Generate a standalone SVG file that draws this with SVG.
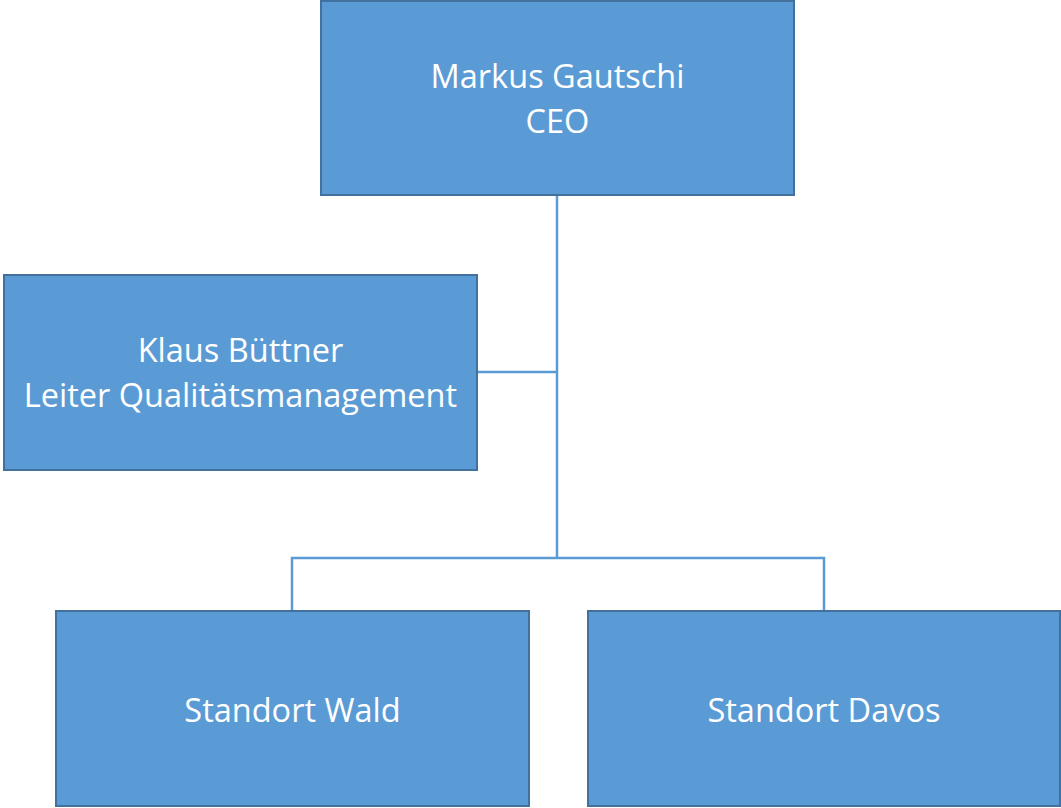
<svg xmlns="http://www.w3.org/2000/svg" width="1061" height="808" viewBox="0 0 1061 808">
<style>
.box{fill:#5B9BD5;stroke:#41719C;stroke-width:2}
.lbl{fill:#FFFFFF;font-family:"Open Sans","Liberation Sans",sans-serif;font-size:32.5px;text-anchor:middle}
.con{fill:none;stroke:#5B9BD5;stroke-width:2.5}
</style>
<rect width="1061" height="808" fill="#FFFFFF"/>
<g id="connectors">
<path class="con" d="M557 195 V558"/>
<path class="con" d="M477 372 H557"/>
<path class="con" d="M292 611 V558 H824 V611"/>
</g>
<g id="ceo">
<rect class="box" x="321" y="1" width="473" height="194"/>
<text class="lbl" x="557.5" y="88">Markus Gautschi</text>
<text class="lbl" x="557.5" y="133">CEO</text>
</g>
<g id="qm">
<rect class="box" x="4" y="275" width="473" height="195"/>
<text class="lbl" x="240.5" y="362">Klaus Büttner</text>
<text class="lbl" x="240.5" y="407">Leiter Qualitätsmanagement</text>
</g>
<g id="wald">
<rect class="box" x="56" y="611" width="473" height="195"/>
<text class="lbl" x="292.5" y="722">Standort Wald</text>
</g>
<g id="davos">
<rect class="box" x="588" y="611" width="472" height="195"/>
<text class="lbl" x="824" y="722">Standort Davos</text>
</g>
</svg>
